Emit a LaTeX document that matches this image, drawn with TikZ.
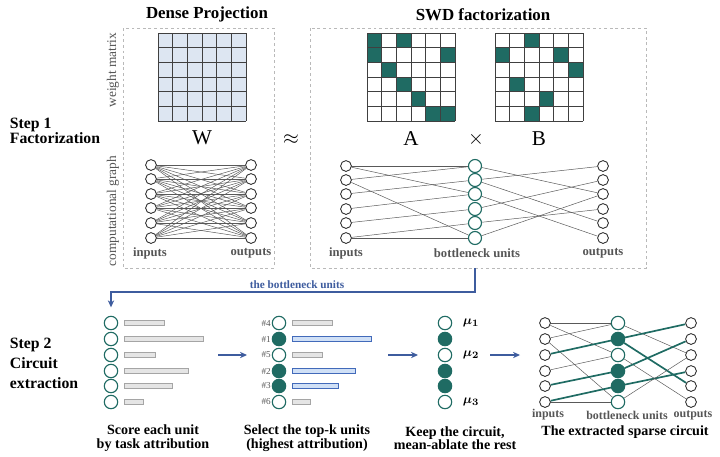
\documentclass[tikz,border=0pt]{standalone}
\usepackage{amsmath}
\usepackage{fontspec}
\setmainfont{Liberation Serif}
\usetikzlibrary{arrows.meta, positioning}

\definecolor{swdteal}{RGB}{31,107,99}
\definecolor{wfill}{RGB}{221,230,242}
\definecolor{arrowblue}{RGB}{62,92,158}
\definecolor{labelgray}{RGB}{85,85,85}
\definecolor{barfill}{RGB}{229,229,229}
\definecolor{barline}{RGB}{165,165,165}
\definecolor{selfill}{RGB}{208,224,246}
\definecolor{selline}{RGB}{66,106,186}

\tikzset{
  unit/.style={circle, draw=black!85, fill=white, line width=0.6pt, inner sep=0pt, minimum size=0.27cm},
  bunit/.style={circle, draw=swdteal, fill=white, line width=0.8pt, inner sep=0pt, minimum size=0.325cm},
  kunit/.style={bunit, minimum size=0.335cm},
  kept/.style={fill=swdteal},
  idle/.style={},
  wire/.style={draw=black!65, line width=0.35pt},
  hotwire/.style={draw=swdteal, line width=1.2pt},
  cell/.style={draw=black!75, line width=0.6pt},
  flow/.style={draw=arrowblue, line width=0.75pt, -{Stealth[length=5pt, width=4.5pt]}},
  panel/.style={draw=gray!55, line width=0.5pt, dash pattern=on 2pt off 2pt},
  bar/.style={fill=barfill, draw=barline, line width=0.4pt},
  selbar/.style={fill=selfill, draw=selline, line width=0.6pt},
  title/.style={font=\bfseries\fontsize{12}{14}\selectfont},
  steplabel/.style={anchor=west, align=left},
  caption/.style={font=\bfseries\fontsize{10}{9.6}\selectfont, align=center},
  axislabel/.style={text=labelgray, font=\bfseries\fontsize{9}{10}\selectfont},
  smalllabel/.style={text=labelgray, font=\bfseries\fontsize{8.5}{10}\selectfont},
  sidelabel/.style={text=labelgray, font=\fontsize{9.5}{11}\selectfont, rotate=90},
  flowlabel/.style={text=arrowblue, font=\bfseries\fontsize{8}{9}\selectfont},
  matlabel/.style={font=\fontsize{15}{17}\selectfont},
  ranklabel/.style={text=labelgray, font=\fontsize{6.5}{7}\selectfont, inner sep=0.5pt},
  mulabel/.style={font=\fontsize{9.5}{10}\selectfont}
}

\begin{document}
\begin{tikzpicture}[x=0.025cm, y=-0.025cm]

\useasboundingbox (0,0) rectangle (720,456);

% Titles and dashed panels
\node[title] (densetitle) at (207,14) {Dense Projection};
\node[title] (swdtitle) at (483,15) {SWD factorization};
\draw[panel] (123,28) rectangle (274,268);
\draw[panel] (310,28) rectangle (646,268);

% Row labels
\node[sidelabel] (wmlabel) at (113,70) {weight matrix};
\node[sidelabel] (cglabel) at (113,211) {computational graph};
\node[steplabel, font=\bfseries\fontsize{11.2}{10.7}\selectfont] (stepone) at (5,131) {Step 1\\Factorization};
\node[steplabel, font=\bfseries\fontsize{11.2}{14.2}\selectfont] (steptwo) at (5,363) {Step 2\\Circuit\\extraction};

% Dense weight matrix W
\begin{scope}[shift={(158,33)}]
  \fill[wfill] (0,0) rectangle (88,88);
  \foreach \k in {0,...,6} {
    \draw[cell] ({14.667*\k},0) -- ({14.667*\k},88);
    \draw[cell] (0,{14.667*\k}) -- (88,{14.667*\k});
  }
\end{scope}

% Sparse factor A
\begin{scope}[shift={(367,33)}]
  \foreach \r/\c in {1/1, 1/3, 2/1, 2/6, 3/2, 4/3, 5/4, 6/5, 6/6}
    \fill[swdteal] ({14.667*(\c-1)},{14.667*(\r-1)}) rectangle ++(14.667,14.667);
  \foreach \k in {0,...,6} {
    \draw[cell] ({14.667*\k},0) -- ({14.667*\k},88);
    \draw[cell] (0,{14.667*\k}) -- (88,{14.667*\k});
  }
\end{scope}

% Sparse factor B
\begin{scope}[shift={(495,33)}]
  \foreach \r/\c in {1/3, 2/1, 2/5, 3/6, 4/2, 5/4, 6/3}
    \fill[swdteal] ({14.667*(\c-1)},{14.667*(\r-1)}) rectangle ++(14.667,14.667);
  \foreach \k in {0,...,6} {
    \draw[cell] ({14.667*\k},0) -- ({14.667*\k},88);
    \draw[cell] (0,{14.667*\k}) -- (88,{14.667*\k});
  }
\end{scope}

\node[matlabel] (wname) at (202,138) {W};
\node[matlabel] (approx) at (291,140) {$\approx$};
\node[matlabel] (aname) at (411,139) {A};
\node[matlabel] (times) at (476,139) {$\times$};
\node[matlabel] (bname) at (539,139) {B};

% Dense computational graph
\foreach \i/\yy in {1/165, 2/179, 3/194, 4/208, 5/223, 6/238} {
  \node[unit] (din\i) at (151,\yy) {};
  \node[unit] (dout\i) at (251,\yy) {};
}
\foreach \i in {1,...,6}
  \foreach \j in {1,...,6}
    \draw[wire] (din\i) -- (dout\j);
\node[axislabel] (dinlab) at (150,253) {inputs};
\node[axislabel] (doutlab) at (251,253) {outputs};

% SWD computational graph
\foreach \i/\yy in {1/166, 2/180, 3/194, 4/209, 5/223, 6/238} {
  \node[unit] (sin\i) at (346,\yy) {};
  \node[bunit] (sb\i) at (475,\yy) {};
  \node[unit] (sout\i) at (603,\yy) {};
}
\foreach \a/\b in {1/1, 1/3, 2/1, 2/6, 3/2, 4/3, 5/4, 6/5, 6/6}
  \draw[wire] (sin\a) -- (sb\b);
\foreach \a/\b in {1/3, 2/1, 2/5, 3/6, 4/2, 5/4, 6/3}
  \draw[wire] (sb\a) -- (sout\b);
\node[axislabel] (sinlab) at (346,253) {inputs};
\node[axislabel] (sblab) at (477,253) {bottleneck units};
\node[axislabel] (soutlab) at (603,253) {outputs};

% Step 2, column 1: score each unit
\foreach \i/\yy/\len in {1/323/40, 2/339/79, 3/355/31, 4/371/64, 5/386/48, 6/402/19} {
  \node[kunit] (sc\i) at (111,\yy) {};
  \draw[bar] (124,\yy-2.5) rectangle ++(\len,5);
}

% Hand-over of the bottleneck units
\coordinate (swdout) at (475,268);
\draw[flow, shorten >=0.21cm] (swdout) -- ++(0,24) -| (sc1);
\node[flowlabel] (flowlab) at (297,285) {the bottleneck units};

% Step 2, column 2: top-k selection
\foreach \i/\yy/\len/\rank/\ks/\bs in {1/323/40/4/idle/bar, 2/339/79/1/kept/selbar, 3/355/30/5/idle/bar,
                                       4/371/63/2/kept/selbar, 5/386/46/3/kept/selbar, 6/402/18/6/idle/bar} {
  \node[kunit, \ks] (tk\i) at (279,\yy) {};
  \node[ranklabel, left=0pt of tk\i] (rk\i) {\#\rank};
  \draw[\bs] (292,\yy-2.5) rectangle ++(\len,5);
}

% Step 2, column 3: keep the circuit
\foreach \i/\yy/\ks in {1/323/idle, 2/339/kept, 3/355/idle, 4/371/kept, 5/386/kept, 6/402/idle}
  \node[kunit, \ks] (kp\i) at (445,\yy) {};
\node[mulabel, right=4pt of kp1] (mu1) {$\boldsymbol{\mu_1}$};
\node[mulabel, right=4pt of kp3] (mu2) {$\boldsymbol{\mu_2}$};
\node[mulabel, right=4pt of kp6] (mu3) {$\boldsymbol{\mu_3}$};

% Step 2, column 4: extracted sparse circuit
\foreach \i/\yy/\ks in {1/323/idle, 2/339/kept, 3/355/idle, 4/371/kept, 5/386/kept, 6/402/idle} {
  \node[unit] (cin\i) at (545,\yy) {};
  \node[kunit, \ks] (cb\i) at (618,\yy) {};
  \node[unit] (cout\i) at (691,\yy) {};
}
\foreach \a/\b/\st in {1/1/wire, 1/3/wire, 2/1/wire, 2/6/wire, 3/2/hotwire,
                       4/3/wire, 5/4/hotwire, 6/5/hotwire, 6/6/wire}
  \draw[\st] (cin\a) -- (cb\b);
\foreach \a/\b/\st in {1/3/wire, 2/1/hotwire, 2/5/hotwire, 3/6/wire,
                       4/2/hotwire, 5/4/hotwire, 6/3/wire}
  \draw[\st] (cb\a) -- (cout\b);
\node[smalllabel] (cinlab) at (548,415) {inputs};
\node[smalllabel] (cblab) at (627,415) {bottleneck units};
\node[smalllabel] (coutlab) at (693,415) {outputs};

% Arrows between the step 2 columns
\coordinate (fa1) at (218,355); \coordinate (fb1) at (247,355);
\coordinate (fa2) at (388,355); \coordinate (fb2) at (418,355);
\coordinate (fa3) at (490,355); \coordinate (fb3) at (520,355);
\draw[flow] (fa1) -- (fb1);
\draw[flow] (fa2) -- (fb2);
\draw[flow] (fa3) -- (fb3);

% Captions
\node[caption] (capscore) at (153,438) {Score each unit\\by task attribution};
\node[caption] (capselect) at (307,438) {Select the top-k units\\(highest attribution)};
\node[caption] (capkeep) at (455,438) {Keep the circuit,\\mean-ablate the rest};
\node[caption] (capcircuit) at (625,432) {The extracted sparse circuit};

\end{tikzpicture}
\end{document}
